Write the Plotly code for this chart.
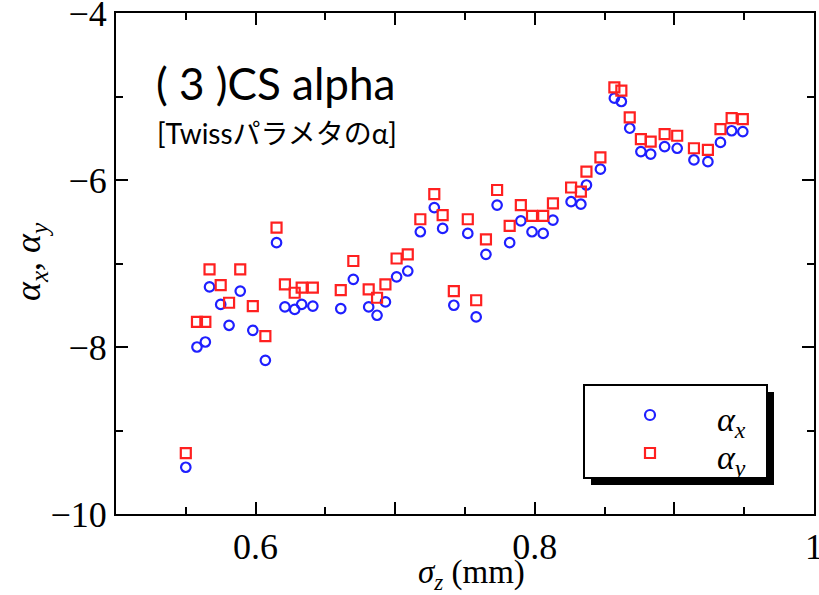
import plotly.graph_objects as go

# sigma_z (mm)
sigma_z = [0.550, 0.558, 0.564, 0.567, 0.575, 0.581, 0.589, 0.598, 0.607, 0.615,
           0.621, 0.628, 0.633, 0.641, 0.661, 0.670, 0.681, 0.687, 0.693, 0.701,
           0.709, 0.718, 0.728, 0.734, 0.742, 0.752, 0.758, 0.765, 0.773, 0.782,
           0.790, 0.798, 0.806, 0.813, 0.826, 0.833, 0.837, 0.847, 0.857, 0.862,
           0.868, 0.876, 0.883, 0.893, 0.902, 0.914, 0.924, 0.933, 0.941, 0.949]

alpha_x = [-9.44, -8.00, -7.94, -7.28, -7.49, -7.74, -7.33, -7.80, -8.16, -6.75,
           -7.52, -7.55, -7.49, -7.51, -7.54, -7.19, -7.52, -7.62, -7.46, -7.16,
           -7.09, -6.62, -6.33, -6.58, -7.50, -6.64, -7.64, -6.89, -6.30, -6.75,
           -6.49, -6.62, -6.64, -6.48, -6.26, -6.29, -6.06, -5.87, -5.02, -5.06,
           -5.38, -5.66, -5.69, -5.60, -5.62, -5.76, -5.78, -5.55, -5.41, -5.42]

alpha_y = [-9.27, -7.70, -7.70, -7.07, -7.26, -7.47, -7.07, -7.51, -7.87, -6.57,
           -7.25, -7.35, -7.29, -7.29, -7.32, -6.97, -7.31, -7.41, -7.25, -6.94,
           -6.89, -6.47, -6.17, -6.42, -7.33, -6.47, -7.44, -6.71, -6.12, -6.55,
           -6.30, -6.43, -6.43, -6.28, -6.09, -6.14, -5.90, -5.73, -4.89, -4.93,
           -5.25, -5.51, -5.54, -5.45, -5.47, -5.62, -5.64, -5.39, -5.26, -5.27]

x_tickvals = [0.5, 0.6, 0.7, 0.8, 0.9, 1.0]
x_ticktext = ["", "0.6", "", "0.8", "", "1"]
y_tickvals = [-10, -8, -6, -4]
y_ticktext = ["\u221210", "\u22128", "\u22126", "\u22124"]

W, H = 819, 595
L, R, T, B = 116, 5, 13, 81
pw, ph = W - L - R, H - T - B


def px(p):
    return (p - L) / pw


def py(p):
    return (H - B - p) / ph


SERIF = "Liberation Serif, Times New Roman, serif"
BLUE = "#1f1fff"
RED = "#ff2020"

fig = go.Figure()
fig.add_trace(go.Scatter(
    x=sigma_z, y=alpha_x, mode="markers", name="αx",
    marker=dict(symbol="circle-open", size=9.5, color=BLUE, line=dict(width=2.2, color=BLUE)),
    showlegend=False))
fig.add_trace(go.Scatter(
    x=sigma_z, y=alpha_y, mode="markers", name="αy",
    marker=dict(symbol="square-open", size=10, color=RED, line=dict(width=2.2, color=RED)),
    showlegend=False))

axis_common = dict(
    showline=True, linecolor="black", linewidth=2, mirror="allticks",
    ticks="inside", ticklen=12, tickwidth=2, tickcolor="black",
    showgrid=False, zeroline=False, ticklabeloverflow="allow", automargin=False,
    tickfont=dict(family=SERIF, size=36, color="black"),
)

fig.update_xaxes(
    range=[0.5, 1.0], tickmode="array", tickvals=x_tickvals, ticktext=x_ticktext,
    minor=dict(tickmode="linear", tick0=0.5, dtick=0.05, ticks="inside", ticklen=7,
               tickwidth=2, tickcolor="black", showgrid=False),
    **axis_common)
fig.update_yaxes(
    range=[-10, -4], tickmode="array", tickvals=y_tickvals, ticktext=y_ticktext,
    minor=dict(tickmode="linear", tick0=-10, dtick=1, ticks="inside", ticklen=7,
               tickwidth=2, tickcolor="black", showgrid=False),
    **axis_common)

shapes = [
    # legend shadow
    dict(type="rect", xref="paper", yref="paper", x0=px(591), x1=px(774), y0=py(392), y1=py(485),
         fillcolor="black", line=dict(width=0), layer="above"),
    # legend box
    dict(type="rect", xref="paper", yref="paper", x0=px(584), x1=px(767), y0=py(385), y1=py(478),
         fillcolor="white", line=dict(color="black", width=2), layer="above"),
    # legend symbols
    dict(type="circle", xref="paper", yref="paper", xsizemode="pixel", ysizemode="pixel",
         xanchor=px(650), yanchor=py(415), x0=-5, x1=5, y0=-5, y1=5,
         line=dict(color=BLUE, width=2.2), fillcolor="rgba(0,0,0,0)", layer="above"),
    dict(type="rect", xref="paper", yref="paper", xsizemode="pixel", ysizemode="pixel",
         xanchor=px(650), yanchor=py(453), x0=-5, x1=5, y0=-5, y1=5,
         line=dict(color=RED, width=2.2), fillcolor="rgba(0,0,0,0)", layer="above"),
]

annotations = [
    dict(text="<i>α</i><sub><i>x</i></sub>", xref="paper", yref="paper", x=px(715), y=py(422),
         xanchor="left", yanchor="middle", showarrow=False,
         font=dict(family=SERIF, size=34, color="black")),
    dict(text="<i>α</i><sub><i>y</i></sub>", xref="paper", yref="paper", x=px(715), y=py(460),
         xanchor="left", yanchor="middle", showarrow=False,
         font=dict(family=SERIF, size=34, color="black")),
    # axis titles
    dict(text="<i>σ</i><sub><i>z</i></sub> (mm)", xref="paper", yref="paper", x=px(471), y=py(574),
         xanchor="center", yanchor="middle", showarrow=False,
         font=dict(family=SERIF, size=33, color="black")),
    dict(text="<i>α</i><sub><i>x</i></sub>, <i>α</i><sub><i>y</i></sub>", xref="paper", yref="paper",
         x=px(30), y=py(262), xanchor="center", yanchor="middle", textangle=-90, showarrow=False,
         font=dict(family=SERIF, size=36, color="black")),
    # in-plot labels
    dict(text="( 3 )CS alpha",
         xref="paper", yref="paper", x=px(154), y=py(83),
         xanchor="left", yanchor="middle", showarrow=False,
         font=dict(family="Lato, Noto Sans CJK JP", size=44, color="black")),
    dict(text="[Twissパラメタのα]", xref="paper", yref="paper", x=px(155), y=py(133),
         xanchor="left", yanchor="middle", showarrow=False,
         font=dict(family="Lato, Noto Sans CJK JP", size=28, color="black")),
]

fig.update_layout(
    width=W, height=H, margin=dict(l=L, r=R, t=T, b=B),
    paper_bgcolor="white", plot_bgcolor="white",
    shapes=shapes, annotations=annotations, showlegend=False,
)

fig.write_html("out.html")
